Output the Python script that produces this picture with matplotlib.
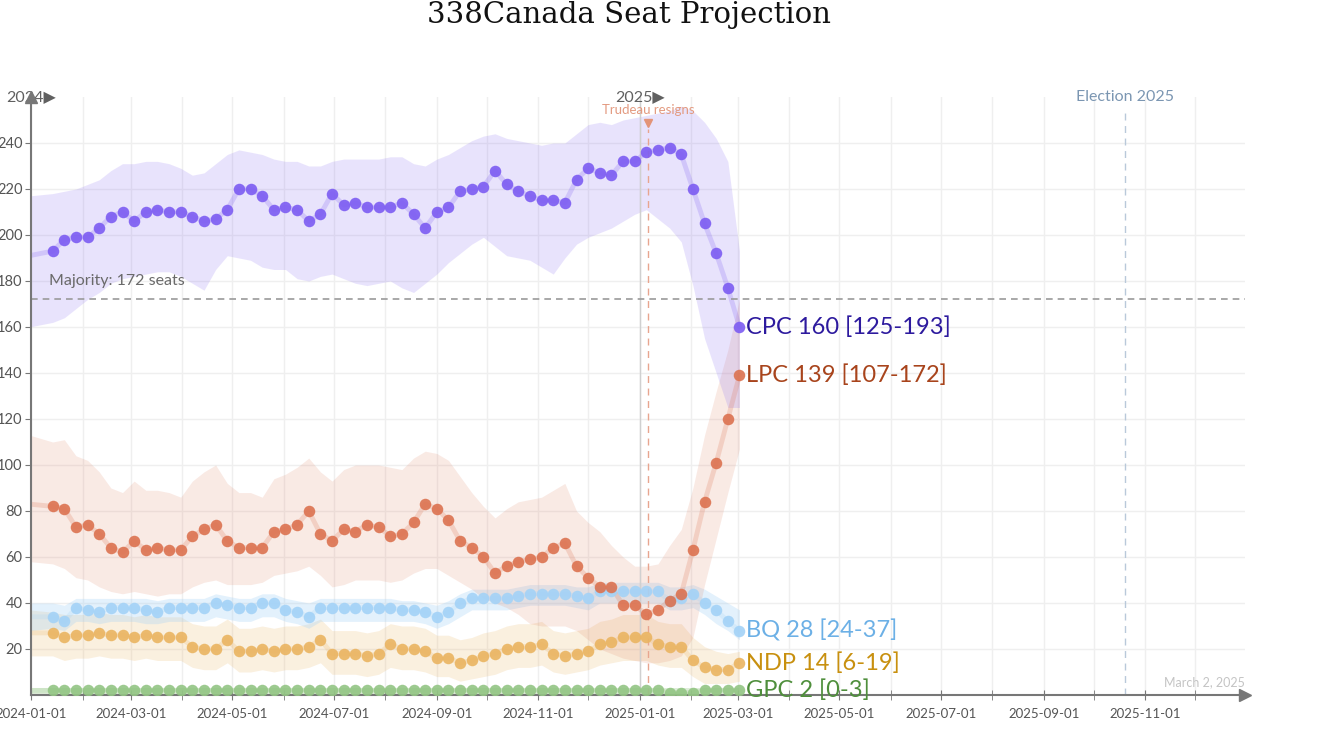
import numpy as np
import pandas as pd
import matplotlib
matplotlib.use("Agg")
from matplotlib import pyplot as plt
import matplotlib.dates as mdates

plt.rcParams['font.family'] = ['Lato', 'DejaVu Sans']

# weekly projections; first entry is the last one before the window (only its line shows)
dates = pd.DatetimeIndex([pd.Timestamp("2023-12-31")]).append(
    pd.date_range("2024-01-14", periods=60, freq="7D"))

cpc = [191,
       193, 198, 199, 199, 203, 208, 210, 206, 210, 211,
       210, 210, 208, 206, 207, 211, 220, 220, 217, 211,
       212, 211, 206, 209, 218, 213, 214, 212, 212, 212,
       214, 209, 203, 210, 212, 219, 220, 221, 228, 222,
       219, 217, 215, 215, 214, 224, 229, 227, 226, 232,
       232, 236, 237, 238, 235, 220, 205, 192, 177, 160]
cpc_high = [217,
            218, 219, 220, 222, 224, 228, 231, 231, 232, 232,
            231, 229, 226, 227, 231, 235, 237, 236, 235, 233,
            232, 232, 230, 230, 232, 233, 233, 233, 233, 234,
            234, 231, 230, 233, 235, 238, 241, 243, 244, 242,
            241, 240, 239, 240, 240, 244, 248, 249, 248, 250,
            251, 252, 253, 254, 256, 254, 249, 242, 232, 193]
cpc_low = [160,
           162, 164, 168, 172, 175, 179, 181, 182, 183, 184,
           184, 182, 179, 176, 185, 191, 190, 189, 186, 185,
           185, 181, 180, 182, 183, 181, 179, 178, 179, 180,
           177, 175, 179, 183, 188, 192, 196, 199, 195, 191,
           190, 189, 186, 183, 190, 196, 199, 201, 203, 206,
           209, 211, 207, 203, 197, 178, 155, 140, 125, 125]

lpc = [83,
       82, 81, 73, 74, 70, 64, 62, 67, 63, 64,
       63, 63, 69, 72, 74, 67, 64, 64, 64, 71,
       72, 74, 80, 70, 67, 72, 71, 74, 73, 69,
       70, 75, 83, 81, 76, 67, 64, 60, 53, 56,
       58, 59, 60, 64, 66, 56, 51, 47, 47, 39,
       39, 35, 37, 41, 44, 63, 84, 101, 120, 139]
lpc_high = [113,
            110, 111, 104, 102, 97, 90, 88, 93, 89, 89,
            88, 86, 93, 97, 100, 92, 88, 88, 86, 94,
            96, 99, 103, 97, 93, 98, 100, 100, 100, 99,
            98, 103, 106, 105, 102, 95, 88, 82, 77, 81,
            84, 85, 86, 89, 92, 80, 75, 71, 65, 60,
            56, 56, 57, 65, 72, 90, 113, 132, 150, 172]
lpc_low = [58,
           57, 55, 51, 50, 47, 45, 44, 45, 44, 43,
           44, 44, 47, 49, 50, 48, 48, 48, 49, 52,
           53, 54, 56, 52, 47, 48, 50, 50, 50, 49,
           50, 53, 55, 55, 52, 49, 46, 42, 40, 38,
           35, 31, 30, 30, 30, 28, 24, 20, 18, 16,
           15, 14, 14, 15, 17, 25, 48, 68, 88, 107]

bq = [34,
      34, 32, 38, 37, 36, 38, 38, 38, 37, 36,
      38, 38, 38, 38, 40, 39, 38, 38, 40, 40,
      37, 36, 34, 38, 38, 38, 38, 38, 38, 38,
      37, 37, 36, 34, 36, 40, 42, 42, 42, 42,
      43, 44, 44, 44, 44, 43, 42, 45, 45, 45,
      45, 45, 45, 41, 42, 44, 40, 37, 32, 28]
bq_high = [40,
           40, 39, 42, 42, 42, 42, 42, 42, 42, 41,
           42, 42, 42, 42, 44, 43, 42, 42, 44, 44,
           42, 41, 40, 42, 42, 42, 42, 42, 42, 42,
           41, 41, 40, 39, 41, 44, 46, 46, 46, 46,
           47, 48, 48, 48, 48, 47, 47, 49, 49, 49,
           49, 49, 49, 47, 47, 48, 46, 43, 40, 37]
bq_low = [28,
          29, 28, 32, 32, 31, 32, 32, 32, 31, 31,
          32, 32, 32, 32, 34, 33, 32, 32, 34, 34,
          32, 31, 29, 32, 32, 32, 32, 32, 32, 32,
          32, 32, 31, 29, 31, 34, 37, 37, 37, 37,
          38, 39, 39, 39, 39, 38, 37, 40, 40, 40,
          40, 40, 40, 37, 37, 38, 35, 31, 28, 24]

ndp = [27,
       27, 25, 26, 26, 27, 26, 26, 25, 26, 25,
       25, 25, 21, 20, 20, 24, 19, 19, 20, 19,
       20, 20, 21, 24, 18, 18, 18, 17, 18, 22,
       20, 20, 19, 16, 16, 14, 15, 17, 18, 20,
       21, 21, 22, 18, 17, 18, 19, 22, 23, 25,
       25, 25, 22, 21, 21, 15, 12, 11, 11, 14]
ndp_high = [37,
            36, 35, 35, 35, 36, 35, 35, 34, 35, 34,
            34, 34, 31, 30, 30, 33, 29, 29, 30, 29,
            30, 30, 31, 33, 28, 28, 28, 27, 28, 31,
            30, 30, 29, 26, 26, 24, 25, 27, 28, 30,
            31, 31, 32, 28, 27, 28, 29, 32, 33, 35,
            35, 35, 32, 31, 31, 25, 21, 19, 18, 19]
ndp_low = [17,
           17, 15, 16, 16, 17, 16, 16, 15, 16, 15,
           15, 15, 12, 11, 11, 14, 10, 10, 11, 10,
           11, 11, 12, 14, 9, 9, 9, 8, 9, 12,
           11, 11, 10, 8, 8, 6, 7, 8, 9, 11,
           12, 12, 13, 10, 9, 10, 11, 13, 14, 15,
           15, 15, 13, 12, 12, 8, 5, 5, 5, 6]

gpc = [2,
       2, 2, 2, 2, 2, 2, 2, 2, 2, 2,
       2, 2, 2, 2, 2, 2, 2, 2, 2, 2,
       2, 2, 2, 2, 2, 2, 2, 2, 2, 2,
       2, 2, 2, 2, 2, 2, 2, 2, 2, 2,
       2, 2, 2, 2, 2, 2, 2, 2, 2, 2,
       2, 2, 2, 1, 1, 1, 2, 2, 2, 2]
gpc_high = [3] * 61
gpc_low = [0] * 61

majority = 172
trudeau_date = pd.Timestamp("2025-01-06")
election_date = pd.Timestamp("2025-10-20")

# name, values, low, high, dot colour, label colour, band alpha
parties = [
    ("GPC", gpc, gpc_low, gpc_high, "#93c584", "#4f8f3c", 0.3),
    ("NDP", ndp, ndp_low, ndp_high, "#eab461", "#c8900f", 0.2),
    ("BQ", bq, bq_low, bq_high, "#a3d2f7", "#6cb0e6", 0.3),
    ("LPC", lpc, lpc_low, lpc_high, "#dc7250", "#a8441c", 0.15),
    ("CPC", cpc, cpc_low, cpc_high, "#7c5cf2", "#2d1a9e", 0.17),
]

fig = plt.figure(figsize=(13.33, 7.37), dpi=100)
ax = fig.add_axes([0.0233, 0.057, 0.9107, 0.8114])

for name, vals, lo, hi, col, lcol, a in parties:
    ax.fill_between(dates, lo, hi, color=col, alpha=a, lw=0, zorder=1)

for name, vals, lo, hi, col, lcol, a in parties:
    ax.plot(dates, vals, color=col, alpha=0.22, lw=3.5, zorder=2, solid_capstyle="round")
    ax.plot(dates[1:], vals[1:], "o", color=col, ms=8.3, mec="none", alpha=0.9, zorder=3)
    ax.text(dates[-1] + pd.Timedelta(days=4), vals[-1],
            f"{name} {vals[-1]} [{lo[-1]}-{hi[-1]}]",
            color=lcol, fontsize=17, va="center", ha="left", zorder=5)

ax.set_xlim(pd.Timestamp("2024-01-01"), pd.Timestamp("2025-12-31"))
ax.set_ylim(0, 260)

# majority line
ax.axhline(majority, color="#9a9a9a", lw=1.2, ls=(0, (4, 3)), zorder=2)
ax.text(pd.Timestamp("2024-01-12"), majority + 8, f"Majority: {majority} seats",
        color="#6a6a6a", fontsize=11.5, va="center")

# year markers
ax.axvline(pd.Timestamp("2025-01-01"), color="#d0d0d0", lw=1, zorder=1)
for yr in ["2024", "2025"]:
    ax.text(pd.Timestamp(f"{yr}-01-01"), 260, yr + "\u25B6", color="#606060",
            fontsize=11.5, ha="center", va="center", clip_on=False, zorder=6)

# Trudeau resigns
ax.plot([trudeau_date, trudeau_date], [0, 246], color="#e8a58f", lw=1,
        ls=(0, (5, 4)), zorder=2)
ax.plot(trudeau_date, 248.5, marker="v", color="#e39478", ms=6, zorder=4)
ax.text(trudeau_date, 254.5, "Trudeau resigns", color="#e39a80", fontsize=9.5,
        ha="center", va="center")

# election date
ax.plot([election_date, election_date], [0, 254], color="#b9c9da", lw=1,
        ls=(0, (5, 4)), zorder=2)
ax.text(election_date, 260, "Election 2025", color="#7b96b2", fontsize=11.5,
        ha="center", va="center", clip_on=False)

ax.text(pd.Timestamp("2025-12-31"), 5.5, "March 2, 2025", color="#c4c4c4",
        fontsize=9, ha="right", va="center")

# axes styling
for s in ["top", "right"]:
    ax.spines[s].set_visible(False)
for s in ["left", "bottom"]:
    ax.spines[s].set_color("#777777")
    ax.spines[s].set_linewidth(1.5)
ax.plot(1, 0, ">", color="#777777", ms=9, transform=ax.transAxes, clip_on=False, zorder=6)
ax.plot(0, 1, "^", color="#777777", ms=9, transform=ax.transAxes, clip_on=False, zorder=6)

ax.xaxis.set_major_locator(mdates.MonthLocator(bymonth=[1, 3, 5, 7, 9, 11]))
ax.xaxis.set_minor_locator(mdates.MonthLocator())
ax.xaxis.set_major_formatter(mdates.DateFormatter("%Y-%m-%d"))
ax.set_yticks(np.arange(20, 260, 20))
ax.tick_params(axis="x", which="both", direction="inout", length=7, color="#777777",
               labelsize=9.5, labelcolor="#555555", pad=6)
ax.tick_params(axis="y", direction="out", length=4, color="#777777",
               labelsize=10.5, labelcolor="#555555", pad=2)
ax.grid(which="both", axis="x", color="#efefef", lw=1, zorder=0)
ax.grid(which="major", axis="y", color="#efefef", lw=1, zorder=0)
ax.set_axisbelow(True)

fig.text(629 / 1333, 1 - 15 / 737, "338Canada Seat Projection", fontsize=21,
         family="DejaVu Serif", ha="center", va="center", color="#111111")

fig.savefig("out.png", dpi=100)
